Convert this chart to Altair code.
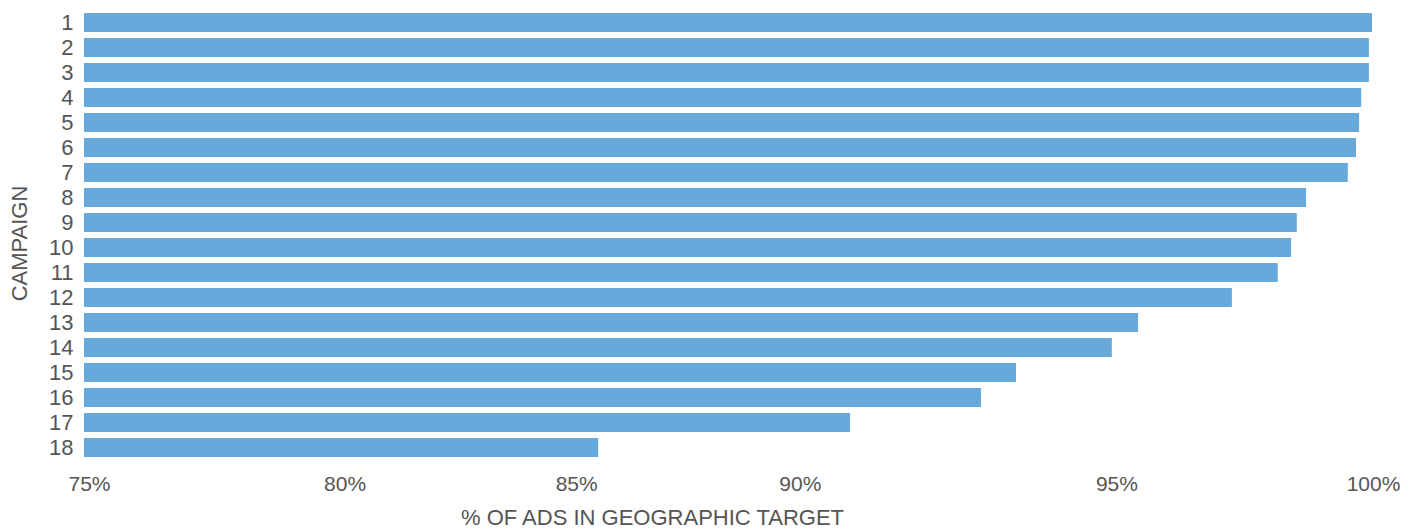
import altair as alt
import pandas as pd

campaigns = [str(i) for i in range(1, 19)]
pct_in_target = [100.0, 99.94, 99.94, 99.79, 99.75, 99.69, 99.53, 98.72, 98.54,
                 98.43, 98.17, 97.28, 95.46, 94.95, 93.09, 92.41, 89.87, 84.98]
x_ticks = [75, 80, 85, 90, 95, 100]

df = pd.DataFrame({"campaign": campaigns, "pct": pct_in_target})

FONT = "Liberation Sans"
TXT = "#555555"

chart = (
    alt.Chart(df)
    .mark_bar(color="#67a9db")
    .encode(
        y=alt.Y(
            "campaign:N",
            sort=None,
            scale=alt.Scale(paddingInner=0.24, paddingOuter=0.12),
            axis=alt.Axis(
                title="CAMPAIGN",
                domain=False,
                ticks=False,
                labelPadding=11,
                labelFont=FONT,
                labelFontSize=22,
                labelColor=TXT,
                titleFont=FONT,
                titleFontSize=22,
                titleFontWeight="normal",
                titleColor=TXT,
                titleAngle=-90,
                titleAlign="center",
                titleBaseline="alphabetic",
                titleX=-58,
                titleY=233,
            ),
        ),
        x=alt.X(
            "pct:Q",
            scale=alt.Scale(domain=[75, 100], zero=False, nice=False),
            axis=alt.Axis(
                title="% OF ADS IN GEOGRAPHIC TARGET",
                values=x_ticks,
                labelExpr="datum.value + '%'",
                domain=False,
                ticks=False,
                grid=False,
                labelFlush=False,
                labelPadding=13,
                labelFont=FONT,
                labelFontSize=21,
                labelColor=TXT,
                labelOffset={
                    "condition": [
                        {"test": "datum.value == 75", "value": 5},
                        {"test": "datum.value == 80", "value": 3},
                        {"test": "datum.value == 85", "value": -23},
                        {"test": "datum.value == 90", "value": -57},
                        {"test": "datum.value == 95", "value": 2},
                    ],
                    "value": 1,
                },
                titleFont=FONT,
                titleFontSize=22,
                titleFontWeight="normal",
                titleColor=TXT,
                titleAlign="center",
                titleBaseline="alphabetic",
                titleX=568,
                titleY=64,
            ),
        ),
        x2=alt.datum(75),
    )
    .properties(
        width=1288,
        height=450,
        autosize=alt.AutoSizeParams(type="none"),
        padding={"left": 76, "top": 2, "right": 36, "bottom": 69},
    )
    .configure_view(stroke=None)
)

chart.save("out.html", embed_options={"renderer": "svg", "actions": False})
